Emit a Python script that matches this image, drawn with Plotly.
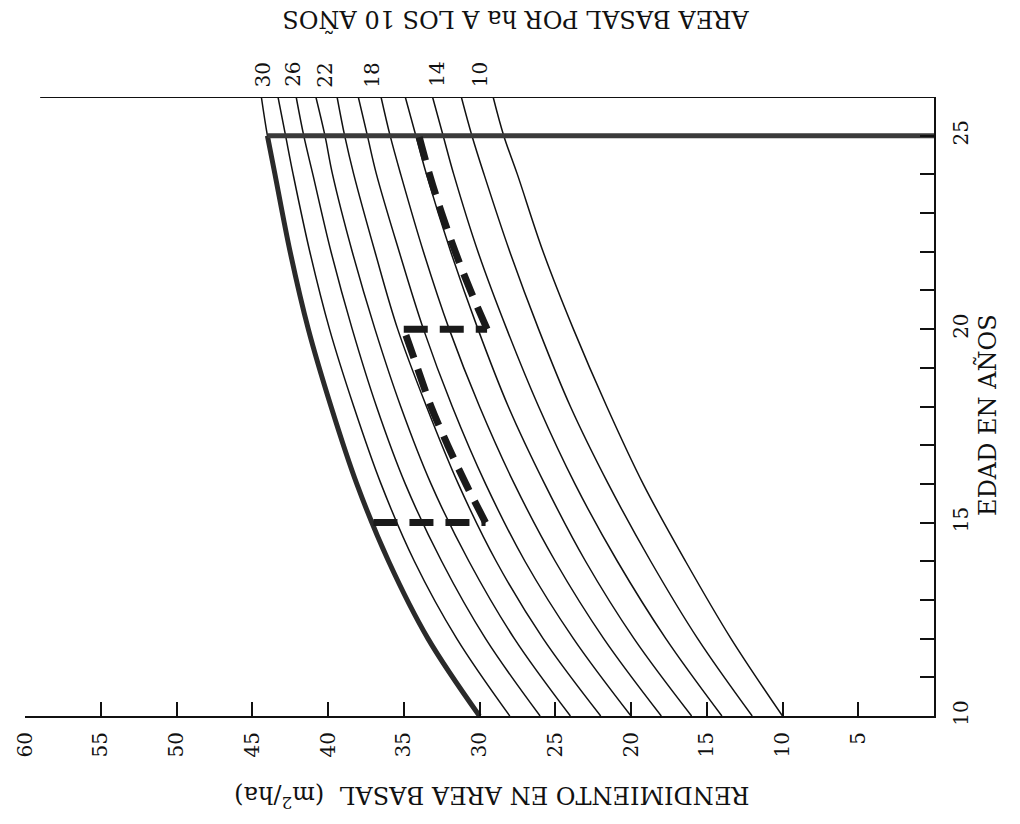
import plotly.graph_objects as go

# Edad (años) en la que se leen las curvas
edad = [10, 12, 14, 16, 18, 20, 22, 24, 25, 26]

# Área basal (m2/ha) de cada curva, rotulada por su valor a los 10 años
ab_30 = [30.0, 33.4, 36.0, 38.1, 39.8, 41.3, 42.5, 43.5, 44.0, 44.4]
ab_28 = [28.0, 31.5, 34.3, 36.5, 38.3, 39.9, 41.2, 42.3, 42.8, 43.3]
ab_26 = [26.0, 29.6, 32.5, 34.9, 36.8, 38.4, 39.8, 41.0, 41.6, 42.1]
ab_24 = [24.0, 27.7, 30.7, 33.2, 35.2, 36.9, 38.4, 39.7, 40.2, 40.8]
ab_22 = [22.0, 25.8, 28.9, 31.4, 33.5, 35.4, 36.9, 38.3, 38.9, 39.4]
ab_20 = [20.0, 23.8, 27.0, 29.6, 31.8, 33.7, 35.3, 36.8, 37.4, 38.0]
ab_18 = [18.0, 21.8, 25.0, 27.7, 30.0, 32.0, 33.7, 35.2, 35.9, 36.5]
ab_16 = [16.0, 19.8, 23.0, 25.7, 28.1, 30.1, 31.9, 33.5, 34.2, 34.9]
ab_14 = [14.0, 17.7, 20.9, 23.7, 26.1, 28.2, 30.1, 31.7, 32.4, 33.1]
ab_12 = [12.0, 15.6, 18.7, 21.5, 24.0, 26.1, 28.0, 29.7, 30.5, 31.2]
ab_10 = [10.0, 13.4, 16.4, 19.2, 21.6, 23.8, 25.8, 27.5, 28.4, 29.1]

# Curvas rotuladas arriba del gráfico
rotulos = ["30", "26", "22", "18", "14", "10"]

# Régimen de raleos (trazo discontinuo)
raleo1_edad = [15, 15]
raleo1_ab = [37.0, 29.6]
crec1_edad = [15, 16, 17, 18, 19, 20]
crec1_ab = [29.6, 30.9, 32.1, 33.2, 34.1, 35.0]
raleo2_edad = [20, 20]
raleo2_ab = [35.0, 29.5]
crec2_edad = [20, 21, 22, 23, 24, 25]
crec2_ab = [29.5, 30.6, 31.6, 32.5, 33.3, 34.0]

# Corta final a los 25 años
corta_edad = [25, 25]
corta_ab = [44.0, 0.0]

ticks_ab = [5, 10, 15, 20, 25, 30, 35, 40, 45, 50, 55, 60]
ticks_edad = [10, 15, 20, 25]

FUENTE = "DejaVu Serif"
NEGRO = "#111111"

curvas = [ab_30, ab_28, ab_26, ab_24, ab_22, ab_20, ab_18, ab_16, ab_14, ab_12, ab_10]

fig = go.Figure()

for serie in curvas:
    fig.add_trace(go.Scatter(
        x=serie, y=edad, mode="lines",
        line=dict(color=NEGRO, width=1.5, shape="spline", smoothing=1.0),
        hoverinfo="skip",
    ))

# Curva de 30 m2/ha resaltada hasta los 25 años
fig.add_trace(go.Scatter(
    x=ab_30[:9], y=edad[:9], mode="lines",
    line=dict(color="#2a2a2a", width=5, shape="spline", smoothing=1.0),
    hoverinfo="skip",
))

# Corta final
fig.add_trace(go.Scatter(
    x=corta_ab, y=corta_edad, mode="lines",
    line=dict(color="#3a3a3a", width=5),
    hoverinfo="skip",
))

# Raleos y crecimiento posterior
estilo_disc = dict(color="#1a1a1a", width=7, dash="24px,12px")
for xs, ys, forma in [
    (raleo1_ab, raleo1_edad, "linear"),
    (crec1_ab, crec1_edad, "spline"),
    (raleo2_ab, raleo2_edad, "linear"),
    (crec2_ab, crec2_edad, "spline"),
]:
    fig.add_trace(go.Scatter(
        x=xs, y=ys, mode="lines",
        line=dict(shape=forma, **estilo_disc),
        hoverinfo="skip",
    ))

# Línea superior del marco
fig.add_shape(type="line", xref="x", yref="y", x0=59.0, x1=0, y0=26, y1=26,
              line=dict(color=NEGRO, width=2))

fig.update_xaxes(
    range=[60, 0], showgrid=False, zeroline=False,
    showline=True, linecolor=NEGRO, linewidth=2,
    ticks="inside", ticklen=14, tickwidth=1.5, tickcolor=NEGRO,
    tickvals=ticks_ab, ticktext=[str(v) for v in ticks_ab],
    tickangle=-90, ticklabelstandoff=6,
    tickfont=dict(family=FUENTE, size=20, color=NEGRO),
)
fig.update_yaxes(
    range=[10, 26], side="right", showgrid=False, zeroline=False,
    showline=True, linecolor=NEGRO, linewidth=2,
    ticks="inside", ticklen=14, tickwidth=1.5, tickcolor=NEGRO,
    tickvals=ticks_edad, ticktext=[str(v) for v in ticks_edad],
    tickangle=-90, ticklabelstandoff=8,
    tickfont=dict(family=FUENTE, size=20, color=NEGRO),
    minor=dict(ticks="inside", ticklen=14, tickwidth=1.5, tickcolor=NEGRO,
               dtick=1, showgrid=False),
)

anotaciones = [
    dict(text="RENDIMIENTO EN AREA BASAL  (m<sup>2</sup>/ha)", xref="paper", yref="paper",
         x=0.514, y=-0.131, textangle=180, font=dict(size=24)),
    dict(text="AREA BASAL POR ha A LOS 10 AÑOS", xref="paper", yref="paper",
         x=0.54, y=1.124, textangle=180, font=dict(size=24)),
    dict(text="EDAD EN AÑOS", xref="paper", yref="paper",
         x=1.058, y=0.486, textangle=-90, font=dict(size=24)),
]
pos_rotulos = [44.3, 42.3, 40.2, 37.1, 32.8, 30.0]
for txt, xr in zip(rotulos, pos_rotulos):
    anotaciones.append(dict(text=txt, xref="x", yref="paper", x=xr, y=1.036,
                            textangle=-90, font=dict(size=20)))
for a in anotaciones:
    a.update(showarrow=False, xanchor="center", yanchor="middle")
    a["font"].update(family=FUENTE, color=NEGRO)

fig.update_layout(
    width=1020, height=824,
    margin=dict(l=20, r=86, t=97, b=108),
    plot_bgcolor="white", paper_bgcolor="white",
    showlegend=False,
    annotations=anotaciones,
)

fig.write_html("out.html")
